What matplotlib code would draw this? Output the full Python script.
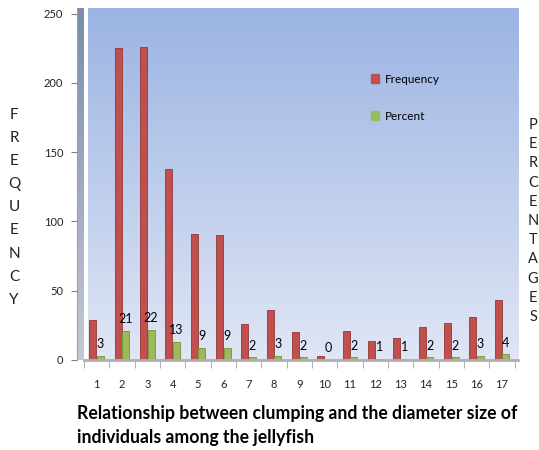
import numpy as np
import matplotlib.pyplot as plt
from matplotlib.patches import Patch

categories = list(range(1, 18))
frequency = [29, 225, 226, 138, 91, 90, 26, 36, 20, 3, 21, 14, 16, 24, 27, 31, 43]
percent = [3, 21, 22, 13, 9, 9, 2, 3, 2, 0, 2, 1, 1, 2, 2, 3, 4]
yticks = [0, 50, 100, 150, 200, 250]

red = '#c0504d'
green = '#9bbb59'
font = 'Lato'

W, H = 539, 450
fig = plt.figure(figsize=(W / 100, H / 100), dpi=100)

def frac(x0, y0, x1, y1):
    # pixel box -> figure fraction
    return [x0 / W, 1 - y1 / H, (x1 - x0) / W, (y1 - y0) / H]

ax = fig.add_axes(frac(84, 8, 518, 360))
x = np.array(categories)
ymax = 254

# blue gradient background
grad = np.linspace(0, 1, 256).reshape(-1, 1)
top = np.array([155, 180, 227]) / 255
bot = np.array([224, 230, 245]) / 255
img = top + (bot - top) * grad[:, :, None]
ax.imshow(img, extent=[0.65, 17.63, 0, ymax], aspect='auto', zorder=0)

ax.bar(x - 0.15, frequency, width=0.28, color=red, edgecolor='#943634', linewidth=0.6, zorder=2, label='Frequency')
ax.bar(x + 0.15, percent, width=0.28, color=green, edgecolor='#76923c', linewidth=0.6, zorder=2, label='Percent')

for xi, p in zip(x, percent):
    ax.annotate(str(p), (xi + 0.15, p), xytext=(0, 4), textcoords='offset points',
                ha='center', va='bottom', fontsize=9, family=font, zorder=3)

ax.set_xlim(0.65, 17.63)
ax.set_ylim(0, ymax)
ax.set_yticks([])
ax.set_xticks(x)
ax.set_xticklabels([str(c) for c in categories], fontsize=8, family=font, color='#222222')
ax.set_xticks(np.arange(0.5, 17.6, 1.0), minor=True)
ax.tick_params(axis='x', which='major', length=0, pad=14)
ax.tick_params(axis='x', which='minor', length=6, color='#a0a0a0', direction='out')
for s in ['top', 'right', 'left']:
    ax.spines[s].set_visible(False)
ax.spines['bottom'].set_color('#b0b0b0')
ax.spines['bottom'].set_linewidth(2)

# left 3D wall
wall = fig.add_axes(frac(77, 8, 84, 360))
wgrad = np.linspace(0, 1, 256).reshape(-1, 1)
wtop = np.array([122, 140, 170]) / 255
wbot = np.array([195, 201, 213]) / 255
wimg = wtop + (wbot - wtop) * wgrad[:, :, None]
wall.imshow(wimg, extent=[0, 1, 0, ymax], aspect='auto')
wall.set_xlim(0, 1)
wall.set_ylim(0, ymax)
wall.set_xticks([])
wall.set_yticks(yticks)
wall.set_yticklabels([str(t) for t in yticks], fontsize=8, family=font, color='#222222')
wall.tick_params(axis='y', length=4, color='#808080', pad=6)
for s in ['top', 'right', 'bottom']:
    wall.spines[s].set_visible(False)
wall.spines['left'].set_color('#a0a0a0')

handles = [Patch(color=red, label='Frequency'), Patch(color=green, label='Percent')]
ax.legend(handles=handles, loc='upper left', bbox_to_anchor=((360 - 84) / 434, (360 - 63) / 352),
          frameon=False, prop={'family': font, 'size': 8.5},
          handlelength=0.7, handleheight=0.7, handletextpad=0.5, labelspacing=2.2)

for i, ch in enumerate('FREQUENCY'):
    fig.text(14 / W, 1 - (115 + i * 23.1) / H, ch, ha='center', va='center',
             fontsize=11, family=font, color='#222222')
for i, ch in enumerate('PERCENTAGES'):
    fig.text(533 / W, 1 - (125 + i * 19.2) / H, ch, ha='center', va='center',
             fontsize=10.5, family=font, color='#222222')

fig.text(77 / W, 1 - 413 / H, 'Relationship between clumping and the diameter size of',
         ha='left', va='center', fontsize=12.7, fontweight='bold', family=font)
fig.text(77 / W, 1 - 437 / H, 'individuals among the jellyfish',
         ha='left', va='center', fontsize=12.7, fontweight='bold', family=font)

fig.savefig('out.png', dpi=100)
